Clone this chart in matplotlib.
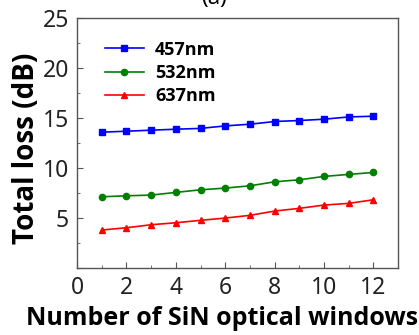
import matplotlib
matplotlib.use("Agg")
import matplotlib.pyplot as plt
from matplotlib.ticker import MultipleLocator

windows = [1, 2, 3, 4, 5, 6, 7, 8, 9, 10, 11, 12]
loss_457 = [13.57, 13.67, 13.77, 13.87, 13.95, 14.2, 14.37, 14.64, 14.74, 14.87, 15.1, 15.17]
loss_532 = [7.1, 7.2, 7.27, 7.54, 7.8, 7.97, 8.2, 8.6, 8.8, 9.14, 9.34, 9.54]
loss_637 = [3.77, 4.0, 4.3, 4.5, 4.74, 4.97, 5.24, 5.67, 5.94, 6.27, 6.44, 6.8]
labels = ["457nm", "532nm", "637nm"]
yticks = [0, 5, 10, 15, 20, 25]
ytick_labels = ["", "5", "10", "15", "20", "25"]

plt.rcParams['font.family'] = ['Noto Sans', 'DejaVu Sans']
bold_family = ['Open Sans', 'Roboto', 'DejaVu Sans']

fig = plt.figure(figsize=(4.19, 3.35), dpi=100)
ax = fig.add_axes([0.184, 0.201, 0.766, 0.745])

ax.plot(windows, loss_457, color='#0000ff', marker='s', markersize=4.5, lw=1.2, label=labels[0])
ax.plot(windows, loss_532, color='#008000', marker='o', markersize=4.5, lw=1.2, label=labels[1])
ax.plot(windows, loss_637, color='#ff0000', marker='^', markersize=5, lw=1.2, label=labels[2])

ax.set_xlim(0, 13)
ax.set_ylim(0, 25)
ax.xaxis.set_major_locator(MultipleLocator(2))
ax.xaxis.set_minor_locator(MultipleLocator(1))
ax.set_yticks(yticks)
ax.set_yticklabels(ytick_labels)
ax.yaxis.set_minor_locator(MultipleLocator(2.5))
ax.tick_params(which='both', direction='in', labelsize=16.5, color='#555555')
ax.tick_params(which='major', length=4, pad=6)
ax.tick_params(which='minor', length=2.5)
for s in ax.spines.values():
    s.set_color('#555555')
    s.set_linewidth(1.0)
for lab in ax.get_xticklabels() + ax.get_yticklabels():
    lab.set_color('#222222')

ax.set_xlabel('Number of SiN optical windows', fontsize=18, fontweight='bold',
              family=bold_family)
ax.xaxis.set_label_coords(0.453, -0.155)
ax.set_ylabel('Total loss (dB)', fontsize=20, fontweight='bold',
              family=bold_family)
ax.yaxis.set_label_coords(-0.112, 0.48)

leg = ax.legend(loc='upper left', bbox_to_anchor=(0.035, 0.975), frameon=False,
                prop={'size': 13, 'weight': 'bold', 'family': bold_family},
                handlelength=2.2, labelspacing=0.3, handletextpad=0.6)

fig.text(0.51, 1.005, '(a)', fontsize=16, ha='center', va='center')

fig.savefig('out.png', dpi=100)
